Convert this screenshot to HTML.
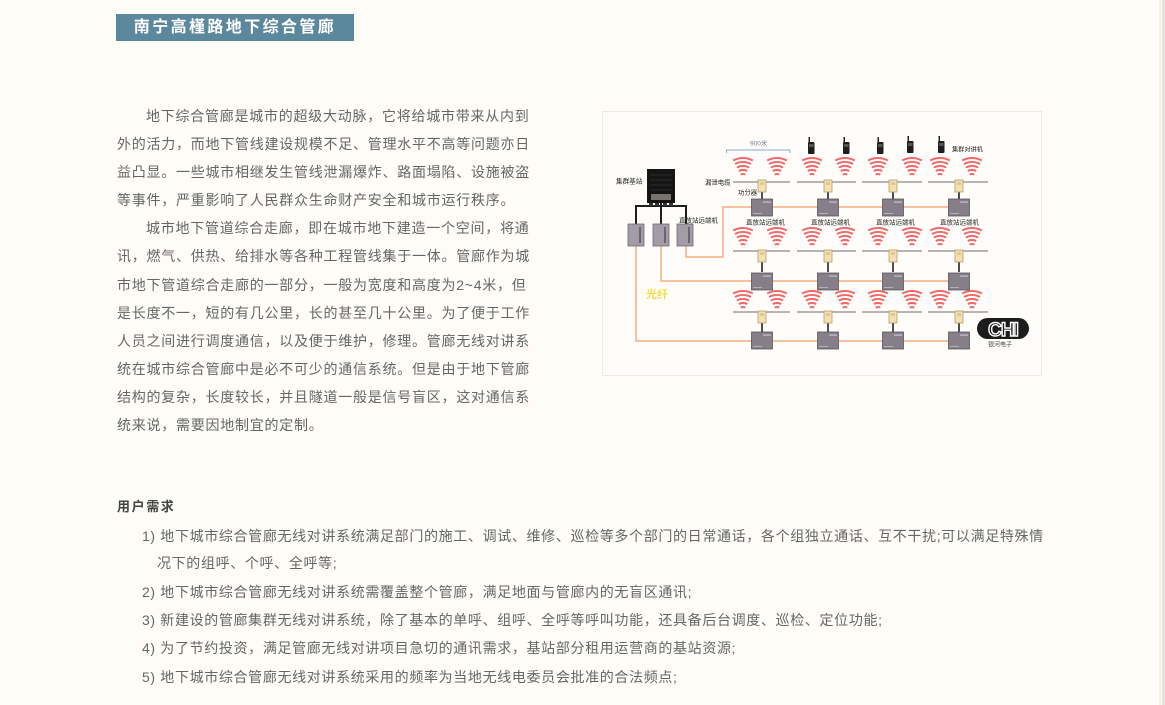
<!DOCTYPE html>
<html><head><meta charset="utf-8">
<style>
html,body{margin:0;padding:0;}
body{width:1165px;height:705px;background:#fdfcf7;position:relative;overflow:hidden;font-family:"Liberation Sans","Noto Sans CJK SC",sans-serif;}
.edge1{position:absolute;left:1159px;top:0;width:2px;height:705px;background:#f6efdf;}
.edge2{position:absolute;left:1162px;top:0;width:3px;height:705px;background:#e4e2df;}
.hdr{position:absolute;left:116px;top:14px;width:238px;height:27px;background:#5b889d;color:#fff;font-weight:bold;font-size:16px;line-height:27px;text-align:center;letter-spacing:2.4px;}
.p{position:absolute;left:117px;top:102px;font-size:14px;letter-spacing:0.75px;line-height:28.1px;color:#666;white-space:nowrap;}
.ln{position:absolute;white-space:nowrap;font-size:14px;letter-spacing:0.65px;line-height:28px;color:#666;}
.ttl{position:absolute;left:117px;top:494px;font-size:13px;font-weight:bold;letter-spacing:1.6px;color:#444;line-height:26px;}
svg{position:absolute;left:0;top:0;}
</style></head><body>
<div class="edge1"></div><div class="edge2"></div>
<div class="hdr">南宁高槿路地下综合管廊</div>
<div class="p"><span style="padding-left:29px"></span>地下综合管廊是城市的超级大动脉，它将给城市带来从内到<br>外的活力，而地下管线建设规模不足、管理水平不高等问题亦日<br>益凸显。一些城市相继发生管线泄漏爆炸、路面塌陷、设施被盗<br>等事件，严重影响了人民群众生命财产安全和城市运行秩序。<br><span style="padding-left:29px"></span>城市地下管道综合走廊，即在城市地下建造一个空间，将通<br>讯，燃气、供热、给排水等各种工程管线集于一体。管廊作为城<br>市地下管道综合走廊的一部分，一般为宽度和高度为2~4米，但<br>是长度不一，短的有几公里，长的甚至几十公里。为了便于工作<br>人员之间进行调度通信，以及便于维护，修理。管廊无线对讲系<br>统在城市综合管廊中是必不可少的通信系统。但是由于地下管廊<br>结构的复杂，长度较长，并且隧道一般是信号盲区，这对通信系<br>统来说，需要因地制宜的定制。</div>

<div class="ttl">用户需求</div>
<div class="ln" style="left:142px;top:522px">1) 地下城市综合管廊无线对讲系统满足部门的施工、调试、维修、巡检等多个部门的日常通话，各个组独立通话、互不干扰;可以满足特殊情</div>
<div class="ln" style="left:157px;top:549px">况下的组呼、个呼、全呼等;</div>
<div class="ln" style="left:142px;top:578px">2) 地下城市综合管廊无线对讲系统需覆盖整个管廊，满足地面与管廊内的无盲区通讯;</div>
<div class="ln" style="left:142px;top:606px">3) 新建设的管廊集群无线对讲系统，除了基本的单呼、组呼、全呼等呼叫功能，还具备后台调度、巡检、定位功能;</div>
<div class="ln" style="left:142px;top:634px">4) 为了节约投资，满足管廊无线对讲项目急切的通讯需求，基站部分租用运营商的基站资源;</div>
<div class="ln" style="left:142px;top:663px">5) 地下城市综合管廊无线对讲系统采用的频率为当地无线电委员会批准的合法频点;</div>

<svg width="1165" height="705" viewBox="0 0 1165 705" xmlns="http://www.w3.org/2000/svg">
<defs>
<g id="wf" fill="none" stroke="#ef6a6a" stroke-width="2">
<path d="M-9.85,-18.54A21,21 0 0 1 9.85,-18.54M-7.98,-15.01A17,17 0 0 1 7.98,-15.01M-6.1,-11.48A13,13 0 0 1 6.1,-11.48M-4.22,-7.95A9,9 0 0 1 4.22,-7.95M-2.35,-4.41A5,5 0 0 1 2.35,-4.41"/>
</g>
<g id="sp"><line x1="0" y1="10" x2="0" y2="20" stroke="#222" stroke-width="1.6"/><rect x="-4" y="-2" width="8" height="12" fill="#f2dfb2" stroke="#b99b68" stroke-width="0.8"/><rect x="-2" y="0" width="4" height="3" fill="#e0c690"/></g>
<g id="bx"><rect x="-10.5" y="0" width="21" height="17" fill="#867e89" stroke="#5a545c" stroke-width="0.8"/><rect x="1" y="2.5" width="8" height="1.2" fill="#c9c4cc"/><rect x="-9" y="14" width="9" height="1" fill="#b5afb8"/></g>
<g id="rd"><rect x="-2.5" y="-5" width="1.5" height="5" fill="#222"/><rect x="-3" y="0" width="6.5" height="12" rx="1" fill="#1e1e1e"/><rect x="-2" y="2" width="4.5" height="3" fill="#555"/></g>
<g id="sb"><rect x="0" y="0" width="16" height="22" fill="#a39ba6" stroke="#6f6872" stroke-width="0.8"/><rect x="11" y="3" width="2" height="16" fill="#6b6470"/></g>
</defs>

<rect x="602.5" y="111.5" width="439" height="264" fill="#fefdfa" stroke="#efe9e4" stroke-width="1"/>

<!-- orange fiber -->
<g fill="none" stroke="#f7ae80" stroke-width="1.5">
<path d="M686,246V257H723V207H950"/>
<path d="M661,246V281H950"/>
<path d="M636,246V341H950"/>
</g>

<!-- black base station lines -->
<g stroke="#1e1e1e" stroke-width="2" fill="none">
<path d="M636,224V206H686V224"/>
<path d="M661,203V224"/>
</g>
<!-- base station -->
<rect x="647" y="169" width="28" height="34" fill="#151515"/>
<g stroke="#444" stroke-width="0.6">
<line x1="650" y1="175" x2="672" y2="175"/><line x1="650" y1="180" x2="672" y2="180"/><line x1="650" y1="185" x2="672" y2="185"/><line x1="650" y1="190" x2="672" y2="190"/>
</g>
<rect x="651" y="194" width="20" height="6" fill="#7a736c"/>
<rect x="649" y="203" width="4" height="3" fill="#333"/><rect x="655" y="203" width="4" height="3" fill="#333"/><rect x="663" y="203" width="4" height="3" fill="#333"/><rect x="669" y="203" width="4" height="3" fill="#333"/>
<text x="616" y="183.5" font-size="6.6" fill="#222" font-family="Liberation Sans,Noto Sans CJK SC,sans-serif">集群基站</text>

<!-- small boxes -->
<use href="#sb" x="628" y="224"/>
<use href="#sb" x="653" y="224"/>
<use href="#sb" x="677" y="224"/>
<text x="679" y="222.5" font-size="6.5" fill="#222" font-family="Liberation Sans,Noto Sans CJK SC,sans-serif">直放站远端机</text>

<text x="646" y="298" font-size="11" font-weight="bold" fill="#f3df45" font-family="Liberation Sans,Noto Sans CJK SC,sans-serif">光纤</text>

<!-- 900m bracket -->
<path d="M726.5,153V150H790V153" fill="none" stroke="#8fa5d6" stroke-width="1"/>
<text x="750" y="145.5" font-size="6.5" fill="#7a7f90" font-family="Liberation Sans,Noto Sans CJK SC,sans-serif">900米</text>

<!-- radios -->
<use href="#rd" x="811" y="142"/>
<use href="#rd" x="846" y="142"/>
<use href="#rd" x="880" y="142"/>
<use href="#rd" x="910" y="141"/>
<use href="#rd" x="941" y="141"/>
<text x="952" y="151.5" font-size="6.2" fill="#222" font-family="Liberation Sans,Noto Sans CJK SC,sans-serif">集群对讲机</text>

<!-- wifi rows -->
<g>
<use href="#wf" x="743" y="179"/><use href="#wf" x="777" y="179"/><use href="#wf" x="812" y="179"/><use href="#wf" x="845" y="179"/><use href="#wf" x="878" y="179"/><use href="#wf" x="912" y="179"/><use href="#wf" x="940" y="179"/><use href="#wf" x="972" y="179"/>
<use href="#wf" x="743" y="249"/><use href="#wf" x="777" y="249"/><use href="#wf" x="812" y="249"/><use href="#wf" x="845" y="249"/><use href="#wf" x="878" y="249"/><use href="#wf" x="912" y="249"/><use href="#wf" x="940" y="249"/><use href="#wf" x="972" y="249"/>
<use href="#wf" x="743" y="312"/><use href="#wf" x="777" y="312"/><use href="#wf" x="812" y="312"/><use href="#wf" x="845" y="312"/><use href="#wf" x="878" y="312"/><use href="#wf" x="912" y="312"/><use href="#wf" x="940" y="312"/><use href="#wf" x="972" y="312"/>
</g>

<!-- leaky cables -->
<g stroke="#8a8a8a" stroke-width="1.2">
<line x1="733" y1="182" x2="790" y2="182"/><line x1="797" y1="182" x2="856" y2="182"/><line x1="862" y1="182" x2="922" y2="182"/><line x1="928" y1="182" x2="988" y2="182"/>
<line x1="733" y1="251" x2="790" y2="251"/><line x1="797" y1="251" x2="856" y2="251"/><line x1="862" y1="251" x2="922" y2="251"/><line x1="928" y1="251" x2="988" y2="251"/>
<line x1="733" y1="312" x2="790" y2="312"/><line x1="797" y1="312" x2="856" y2="312"/><line x1="862" y1="312" x2="922" y2="312"/><line x1="928" y1="312" x2="988" y2="312"/>
</g>
<text x="705" y="184.5" font-size="6.4" fill="#222" font-family="Liberation Sans,Noto Sans CJK SC,sans-serif">漏泄电缆</text>
<text x="738" y="194.5" font-size="6.4" fill="#222" font-family="Liberation Sans,Noto Sans CJK SC,sans-serif">功分器</text>

<!-- splitters -->
<use href="#sp" x="762" y="182"/><use href="#sp" x="828" y="182"/><use href="#sp" x="893" y="182"/><use href="#sp" x="959" y="182"/>
<use href="#sp" x="762" y="252"/><use href="#sp" x="828" y="252"/><use href="#sp" x="893" y="252"/><use href="#sp" x="959" y="252"/>
<use href="#sp" x="762" y="313"/><use href="#sp" x="828" y="313"/><use href="#sp" x="893" y="313"/><use href="#sp" x="959" y="313"/>

<!-- boxes -->
<use href="#bx" x="762" y="199"/><use href="#bx" x="828" y="199"/><use href="#bx" x="893" y="199"/><use href="#bx" x="959" y="199"/>
<use href="#bx" x="762" y="273"/><use href="#bx" x="828" y="273"/><use href="#bx" x="893" y="273"/><use href="#bx" x="959" y="273"/>
<use href="#bx" x="762" y="332"/><use href="#bx" x="828" y="332"/><use href="#bx" x="893" y="332"/><use href="#bx" x="959" y="332"/>

<g font-size="6.5" fill="#222" font-family="Liberation Sans,Noto Sans CJK SC,sans-serif">
<text x="746" y="224.5">直放站远端机</text>
<text x="811" y="224.5">直放站远端机</text>
<text x="876" y="224.5">直放站远端机</text>
<text x="940" y="224.5">直放站远端机</text>
</g>

<!-- logo -->
<rect x="977" y="318" width="52" height="21" rx="10.5" fill="#1c1c1c"/>
<text x="1003" y="336" text-anchor="middle" font-size="19" font-weight="bold" fill="#1c1c1c" stroke="#fff" stroke-width="1.4" letter-spacing="-1" font-family="Liberation Sans,sans-serif">CHI</text>
<text x="988" y="346.5" font-size="6" fill="#444" font-family="Liberation Sans,Noto Sans CJK SC,sans-serif">银河电子</text>
</svg>
</body></html>
